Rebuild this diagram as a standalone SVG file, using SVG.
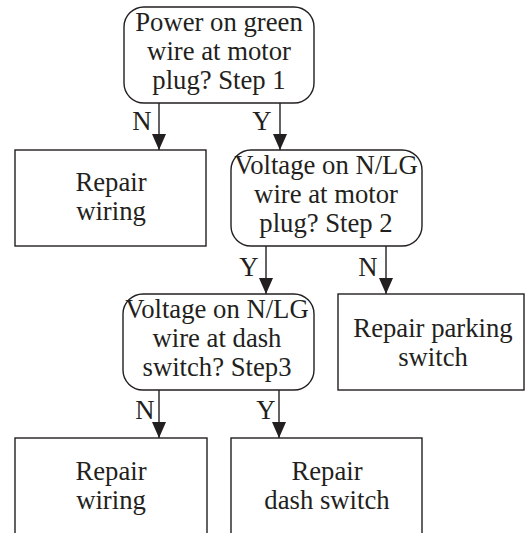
<svg xmlns="http://www.w3.org/2000/svg" width="526" height="533" viewBox="0 0 526 533">
  <style>
    .box { fill: #ffffff; stroke: #231f20; stroke-width: 1.4; }
    .lbl { font-family: "Liberation Serif", "Times New Roman", serif; font-size: 26.7px; fill: #231f20; text-anchor: middle; }
    .edge { stroke: #231f20; stroke-width: 1.4; fill: none; marker-end: url(#arrow); }
  </style>
  <defs>
    <marker id="arrow" markerUnits="userSpaceOnUse" markerWidth="14" markerHeight="16" viewBox="0 0 14 16" refX="7" refY="16" orient="0">
      <path d="M0,0 L14,0 L7,16 Z" fill="#231f20"/>
    </marker>
  </defs>
  <rect width="526" height="533" fill="#ffffff"/>

  <g id="connectors">
    <line class="edge" x1="159" y1="103" x2="159" y2="150"/>
    <text class="lbl" x="142" y="130">N</text>
    <line class="edge" x1="280" y1="103" x2="280" y2="150"/>
    <text class="lbl" x="262" y="130">Y</text>

    <line class="edge" x1="266" y1="246" x2="266" y2="294"/>
    <text class="lbl" x="249" y="276">Y</text>
    <line class="edge" x1="386" y1="246" x2="386" y2="294"/>
    <text class="lbl" x="368" y="276">N</text>

    <line class="edge" x1="159" y1="390" x2="159" y2="438"/>
    <text class="lbl" x="145" y="419">N</text>
    <line class="edge" x1="279" y1="390" x2="279" y2="438"/>
    <text class="lbl" x="266" y="419">Y</text>
  </g>

  <g id="step1">
    <rect class="box" x="124" y="7" width="190" height="96" rx="20" ry="20"/>
    <text class="lbl" x="219" y="31">Power on green</text>
    <text class="lbl" x="219" y="60">wire at motor</text>
    <text class="lbl" x="219" y="89">plug? Step 1</text>
  </g>

  <g id="repair-wiring-1">
    <rect class="box" x="15" y="150" width="191" height="96"/>
    <text class="lbl" x="111" y="191">Repair</text>
    <text class="lbl" x="111" y="220">wiring</text>
  </g>

  <g id="step2">
    <rect class="box" x="231" y="150" width="191" height="96" rx="20" ry="20"/>
    <text class="lbl" x="326" y="174">Voltage on N/LG</text>
    <text class="lbl" x="326" y="203">wire at motor</text>
    <text class="lbl" x="326" y="232">plug? Step 2</text>
  </g>

  <g id="step3">
    <rect class="box" x="123" y="294" width="191" height="96" rx="20" ry="20"/>
    <text class="lbl" x="217" y="318">Voltage on N/LG</text>
    <text class="lbl" x="217" y="347">wire at dash</text>
    <text class="lbl" x="217" y="376">switch? Step3</text>
  </g>

  <g id="repair-parking">
    <rect class="box" x="338" y="294" width="186" height="96"/>
    <text class="lbl" x="433" y="337">Repair parking</text>
    <text class="lbl" x="433" y="366">switch</text>
  </g>

  <g id="repair-wiring-2">
    <rect class="box" x="15" y="438" width="192" height="110"/>
    <text class="lbl" x="111" y="480">Repair</text>
    <text class="lbl" x="111" y="509">wiring</text>
  </g>

  <g id="repair-dash">
    <rect class="box" x="231" y="438" width="191" height="110"/>
    <text class="lbl" x="327" y="480">Repair</text>
    <text class="lbl" x="327" y="509">dash switch</text>
  </g>
</svg>
